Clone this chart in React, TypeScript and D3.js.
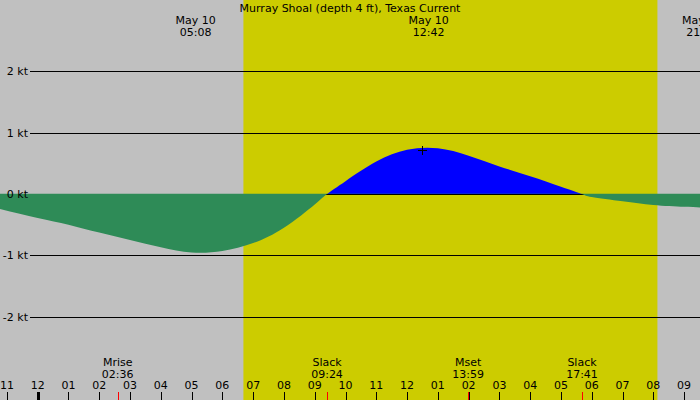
import React from 'react';
import * as d3 from 'd3';

// Current speed (kt) vs hours from midnight May 10 (negative = May 9)
const curveHours = [-1.25, 0, 1, 2, 3, 4, 5, 6, 7, 8, 9, 9.4, 10, 11, 12, 13, 14, 15, 16, 17, 17.68, 18, 19, 20, 21, 21.6];
const curveKnots = [-0.24, -0.39, -0.5, -0.63, -0.75, -0.87, -0.955, -0.93, -0.8, -0.55, -0.17, 0, 0.21, 0.53, 0.72, 0.745, 0.625, 0.45, 0.29, 0.12, 0, -0.05, -0.12, -0.18, -0.21, -0.22];

const title = 'Murray Shoal (depth 4 ft), Texas Current';
const speedTicks = [2, 1, 0, -1, -2];
const hourTicks = d3.range(-1, 22);

const sunrise = '06:41';
const sunset = '20:08';

const peakLabels = [
  { day: 'May 10', time: '05:08' },
  { day: 'May 10', time: '12:42' },
  { day: 'May 10', time: '21:35' },
];
const peakMark = { time: '12:30', knots: 0.72 };

const events = [
  { name: 'Mrise', time: '02:36' },
  { name: 'Slack', time: '09:24' },
  { name: 'Mset', time: '13:59' },
  { name: 'Slack', time: '17:41' },
];

const W = 700;
const H = 400;
const FONT = '"DejaVu Sans", sans-serif';

const toHours = (s: string) => {
  const [h, m] = s.split(':').map(Number);
  return h + m / 60;
};

const hourLabel = (h: number) => {
  const v = ((h + 24) % 12) || 12;
  return String(v).padStart(2, '0');
};

export default function App() {
  const x = d3.scaleLinear().domain([-1, 21]).range([6.9, 684.1]);
  const y = d3.scaleLinear().domain([-2, 2]).range([316.6, 71.4]);
  const y0 = y(0);

  const pts = curveHours.map((h, i) => [h, curveKnots[i]] as [number, number]);

  const floodArea = d3.area<[number, number]>()
    .x(d => x(d[0]))
    .y0(y0)
    .y1(d => y(d[1]))
    .curve(d3.curveNatural);

  const ebbArea = d3.area<[number, number]>()
    .x(d => x(d[0]))
    .y0(y0 - 0.6)
    .y1(d => y(d[1]))
    .curve(d3.curveNatural);

  const sx = x(toHours(sunrise));
  const ex = x(toHours(sunset));
  const px = x(toHours(peakMark.time));
  const py = y(peakMark.knots);

  return (
    <svg width={W} height={H} style={{ position: 'fixed', left: 0, top: 0, display: 'block' }}
      fontFamily={FONT} fontSize={11}>
      <defs>
        <clipPath id="above">
          <rect x={0} y={0} width={W} height={y0} />
        </clipPath>
        <clipPath id="below">
          <rect x={0} y={y0 - 0.6} width={W} height={H} />
        </clipPath>
      </defs>
      <rect width={W} height={H} fill="#c0c0c0" />
      <rect x={sx} y={0} width={ex - sx} height={H} fill="#cccc00" />

      <path d={floodArea(pts) as string} fill="#0000ff" clipPath="url(#above)" />

      {speedTicks.map(v => (
        <line key={v} x1={30} x2={W} y1={Math.round(y(v)) + 0.5} y2={Math.round(y(v)) + 0.5}
          stroke="#000" shapeRendering="crispEdges" />
      ))}

      <path d={ebbArea(pts) as string} fill="#2e8b57" clipPath="url(#below)" />

      {speedTicks.map(v => (
        <text key={v} x={28} y={y(v) + 4} textAnchor="end" fill="#000">{`${v} kt`}</text>
      ))}

      <g stroke="#000" shapeRendering="crispEdges">
        <line x1={px - 4} x2={px + 5} y1={Math.round(py) + 0.5} y2={Math.round(py) + 0.5} />
        <line x1={Math.round(px) + 0.5} x2={Math.round(px) + 0.5} y1={py - 4} y2={py + 5} />
      </g>

      <text x={W / 2} y={11.5} textAnchor="middle" fill="#000">{title}</text>

      {peakLabels.map((p, i) => (
        <g key={i} textAnchor="middle" fill="#000">
          <text x={x(toHours(p.time))} y={24}>{p.day}</text>
          <text x={x(toHours(p.time))} y={36}>{p.time}</text>
        </g>
      ))}

      {hourTicks.map(h => (
        <g key={h}>
          <line x1={Math.round(x(h)) + 0.5} x2={Math.round(x(h)) + 0.5} y1={392} y2={H}
            stroke="#000" strokeWidth={h === 0 ? 3 : 1} shapeRendering="crispEdges" />
          <text x={x(h)} y={389} textAnchor="middle" fill="#000">{hourLabel(h)}</text>
        </g>
      ))}

      {events.map((e, i) => {
        const ex2 = x(toHours(e.time));
        return (
          <g key={i} textAnchor="middle" fill="#000">
            <line x1={Math.round(ex2) + 0.5} x2={Math.round(ex2) + 0.5} y1={392} y2={H}
              stroke="#ff0000" shapeRendering="crispEdges" />
            <text x={ex2} y={365.5}>{e.name}</text>
            <text x={ex2} y={377.5}>{e.time}</text>
          </g>
        );
      })}
    </svg>
  );
}
